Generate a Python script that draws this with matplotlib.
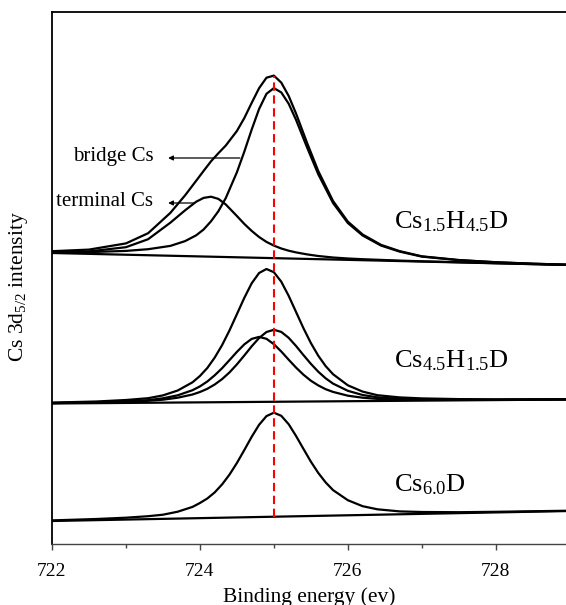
import matplotlib
matplotlib.use("Agg")
import matplotlib.pyplot as plt

plt.rcParams['font.family'] = ['Liberation Serif', 'DejaVu Serif']
plt.rcParams['mathtext.fontset'] = 'custom'
plt.rcParams['mathtext.rm'] = 'Liberation Serif'
plt.rcParams['mathtext.it'] = 'Liberation Serif:italic'

# ---------------- data (binding energy in eV, intensity in arbitrary units) ----
energy_p1 = [722.0, 722.5, 723.0, 723.3, 723.6, 723.8, 723.95, 724.05, 724.15,
             724.25, 724.35, 724.5, 724.6, 724.7, 724.8, 724.9, 725.0, 725.1,
             725.2, 725.3, 725.45, 725.6, 725.8, 726.0, 726.2, 726.45, 726.7,
             727.0, 727.5, 728.0, 728.5, 729.0]
terminal_p1 = [292.0, 292.6, 296.8, 304.8, 321.3, 333.7, 342.3, 346.1, 347.3,
               345.1, 339.5, 328.0, 320.1, 313.1, 307.0, 302.1, 298.4, 295.5,
               293.3, 291.6, 289.6, 288.0, 286.5, 285.5, 284.8, 284.1, 283.4,
               282.7, 281.8, 280.8, 279.9, 279.0]
bridge_p1 = [291.8, 291.9, 293.1, 294.8, 298.1, 302.9, 308.7, 314.5, 322.7,
             332.8, 346.0, 371.7, 392.3, 414.4, 435.0, 450.2, 455.9, 451.6,
             440.3, 424.1, 396.4, 369.8, 341.0, 321.0, 308.5, 298.4, 292.4,
             287.4, 283.8, 281.7, 280.3, 279.2]
envelope_p1 = [292.8, 294.4, 300.6, 310.8, 331.1, 348.7, 363.3, 373.1, 382.7,
               390.8, 398.5, 413.0, 425.9, 441.1, 455.8, 466.3, 468.4, 461.4,
               448.1, 430.4, 400.9, 373.0, 343.0, 322.4, 309.5, 299.1, 292.9,
               287.7, 284.0, 281.8, 280.3, 279.2]
baseline_p1 = [291.0, 279.0]

energy_p23 = [722.0, 722.6, 723.0, 723.3, 723.5, 723.7, 723.9, 724.0, 724.1,
              724.2, 724.3, 724.4, 724.5, 724.6, 724.7, 724.8, 724.9, 725.0,
              725.1, 725.2, 725.3, 725.4, 725.5, 725.6, 725.7, 725.8, 726.0,
              726.2, 726.4, 726.7, 727.0, 727.5, 728.0, 729.0]
comp_a_p2 = [140.9, 141.6, 142.4, 143.2, 144.3, 146.3, 149.5, 152.0, 155.2,
             159.5, 164.9, 171.6, 179.6, 188.5, 197.7, 206.0, 212.0, 214.2,
             212.1, 206.2, 198.0, 188.9, 180.2, 172.3, 165.7, 160.4, 153.2,
             149.0, 146.7, 145.2, 144.7, 144.3, 144.3, 144.7]
comp_b_p2 = [141.0, 141.7, 142.7, 143.8, 145.7, 148.7, 153.8, 157.6, 162.5,
             168.7, 175.8, 183.9, 192.1, 199.6, 205.1, 207.1, 205.2, 199.8,
             192.5, 184.3, 176.4, 169.3, 163.3, 158.6, 154.8, 152.1, 148.3,
             146.3, 145.1, 144.6, 144.3, 144.2, 144.2, 144.6]
envelope_p2 = [141.4, 142.5, 144.0, 145.8, 148.6, 153.5, 161.7, 168.0, 176.0,
               186.4, 198.9, 213.6, 229.8, 246.1, 260.7, 271.0, 275.0, 271.8,
               262.3, 248.2, 232.0, 215.8, 201.0, 188.3, 177.9, 169.8, 158.7,
               152.4, 148.8, 146.6, 145.6, 144.9, 144.6, 144.8]
baseline_p2 = [140.5, 144.5]

peak_p3 = [23.6, 25.0, 26.3, 27.8, 29.3, 32.3, 37.1, 41.0, 45.5,
           51.6, 59.6, 69.4, 81.0, 93.9, 107.2, 119.2, 127.9, 131.3,
           128.2, 119.8, 108.0, 95.1, 82.4, 71.1, 61.6, 53.9, 43.8,
           37.8, 34.7, 32.6, 32.0, 31.8, 32.2, 33.3]
baseline_p3 = [23.0, 33.0]

baseline_x = [722.0, 729.0]
reference_energy = 725.0
reference_span = [27.0, 468.0]

sample_labels = [r'Cs$_{\mathrm{1.5}}$H$_{\mathrm{4.5}}$D',
                 r'Cs$_{\mathrm{4.5}}$H$_{\mathrm{1.5}}$D',
                 r'Cs$_{\mathrm{6.0}}$D']
sample_label_y = [322, 183, 59]

x_major = [722, 724, 726, 728]
x_minor = [723, 725, 727]

# ---------------- figure ------------------------------------------------------
fig = plt.figure(figsize=(5.66, 6.05), dpi=100)
ax = fig.add_axes([52 / 566, 1 - 544 / 605, 514 / 566, 532 / 605])
ax.set_xlim(722, 728.95)
ax.set_ylim(0, 532)

lw = 1.6
kw = dict(color='black', lw=lw, solid_joinstyle='round', solid_capstyle='round')

# panel 1
ax.plot(baseline_x, baseline_p1, **kw)
ax.plot(energy_p1, terminal_p1, **kw)
ax.plot(energy_p1, bridge_p1, **kw)
ax.plot(energy_p1, envelope_p1, **kw)
# panel 2
ax.plot(baseline_x, baseline_p2, **kw)
ax.plot(energy_p23, comp_a_p2, **kw)
ax.plot(energy_p23, comp_b_p2, **kw)
ax.plot(energy_p23, envelope_p2, **kw)
# panel 3
ax.plot(baseline_x, baseline_p3, **kw)
ax.plot(energy_p23, peak_p3, **kw)

# reference line
ax.plot([reference_energy, reference_energy], reference_span, color='#ff0000',
        lw=1.5, dashes=(4, 2.2), zorder=5)

# sample labels
for lab, yy in zip(sample_labels, sample_label_y):
    ax.text(726.62, yy, lab, fontsize=19, ha='left', va='center')

# annotations
ax.annotate('', xy=(723.57, 386), xytext=(724.54, 386),
            arrowprops=dict(arrowstyle='-|>', lw=0.9, color='black',
                            mutation_scale=7, shrinkA=0, shrinkB=0))
ax.text(723.37, 387, 'bridge Cs', ha='right', va='center', fontsize=15)
ax.annotate('', xy=(723.57, 341), xytext=(723.93, 341),
            arrowprops=dict(arrowstyle='-|>', lw=0.9, color='black',
                            mutation_scale=7, shrinkA=0, shrinkB=0))
ax.text(723.36, 342, 'terminal Cs', ha='right', va='center', fontsize=15)

# axes styling
ax.spines['right'].set_visible(False)
ax.spines['left'].set_linewidth(1.3)
ax.spines['top'].set_linewidth(1.3)
ax.spines['bottom'].set_linewidth(1.0)
ax.spines['bottom'].set_color('#444444')
ax.set_yticks([])
ax.set_xticks(x_major)
ax.set_xticks(x_minor, minor=True)
ax.set_xticklabels([str(v) for v in x_major])
ax.tick_params(axis='x', which='major', direction='out', length=4, width=1,
               labelsize=14, pad=10, color='#444444')
ax.tick_params(axis='x', which='minor', direction='out', length=3, width=1,
               color='#444444')

ax.set_xlabel('Binding energy (ev)', fontsize=15.5)
ax.xaxis.set_label_coords(0.5, -0.082)
ax.set_ylabel(r'Cs 3d$_{\mathrm{5/2}}$ intensity', fontsize=15.5)
ax.yaxis.set_label_coords(-0.042, 0.483)

fig.savefig('out.png', dpi=100)
